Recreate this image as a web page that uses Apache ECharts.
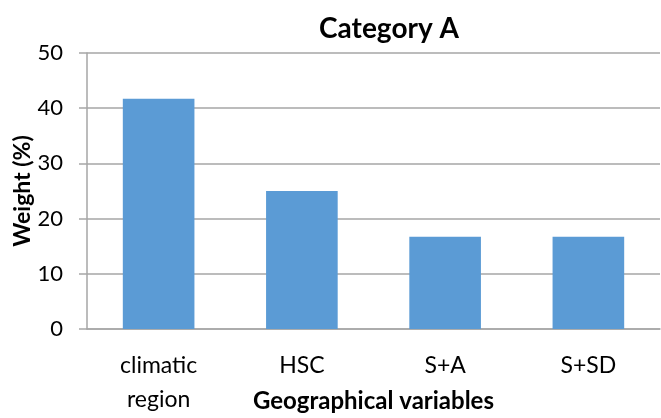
<!DOCTYPE html>
<html>
<head>
<meta charset="utf-8">
<script src="https://cdn.jsdelivr.net/npm/echarts@6/dist/echarts.min.js"></script>
<style>html,body{margin:0;padding:0;background:#fff}#c{width:661px;height:418px}</style>
</head>
<body>
<div id="c"></div>
<script>
const categories = ['climatic\nregion', 'HSC', 'S+A', 'S+SD'];
const weights = [41.7, 25, 16.7, 16.7];
const yTicks = { min: 0, max: 50, interval: 10 };

const FONT = 'Lato';
const chart = echarts.init(document.getElementById('c'));
chart.setOption({
  animation: false,
  title: {
    text: 'Category A', left: 384, top: 10, textAlign: 'center',
    textStyle: { fontFamily: FONT, fontSize: 28, fontWeight: 'bold', color: '#000' }
  },
  grid: { left: 87, right: 1, top: 53, bottom: 89, containLabel: false, outerBoundsMode: 'none' },
  xAxis: {
    type: 'category', data: categories,
    name: 'Geographical variables', nameLocation: 'middle', nameGap: 60, nameMoveOverlap: false,
    nameTextStyle: { fontFamily: FONT, fontSize: 24, fontWeight: 'bold', color: '#000' },
    axisLine: { lineStyle: { color: '#a6a6a6', width: 1.5 } },
    axisTick: { length: 8, lineStyle: { color: '#a6a6a6', width: 1.5 } },
    axisLabel: { fontFamily: FONT, fontSize: 23, color: '#000', margin: 20, lineHeight: 34 }
  },
  yAxis: {
    type: 'value', min: yTicks.min, max: yTicks.max, interval: yTicks.interval,
    name: 'Weight (%)', nameLocation: 'middle', nameGap: 53, nameMoveOverlap: false,
    nameTextStyle: { fontFamily: FONT, fontSize: 23, fontWeight: 'bold', color: '#000' },
    axisLine: { show: true, lineStyle: { color: '#a6a6a6', width: 1.5 } },
    axisTick: { show: true, length: 8, lineStyle: { color: '#a6a6a6', width: 1.5 } },
    axisLabel: { fontFamily: FONT, fontSize: 22, color: '#000', margin: 24 },
    splitLine: { lineStyle: { color: '#a6a6a6', width: 1.5 } }
  },
  series: [{
    type: 'bar', data: weights, barWidth: '50%',
    itemStyle: { color: '#5b9bd5' }
  }]
});
</script>
</body>
</html>
